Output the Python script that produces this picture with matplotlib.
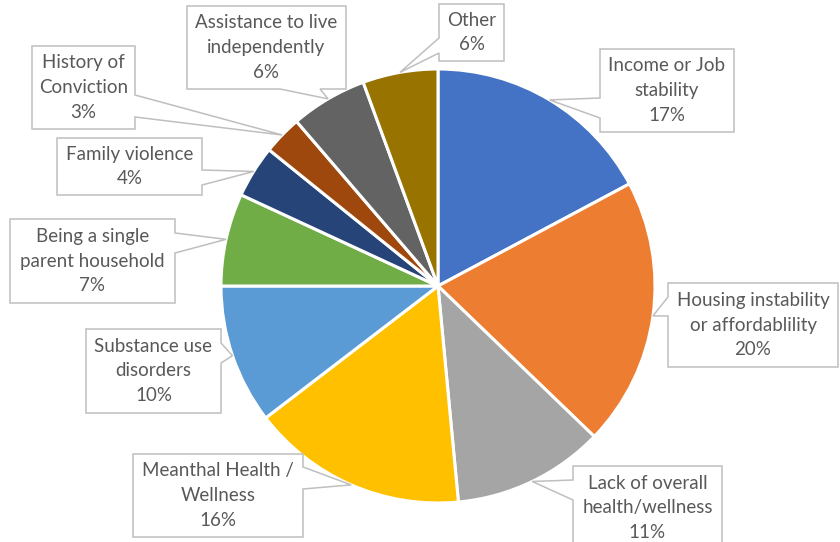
"""Pie chart of reported risk factors with Excel-style callout labels."""
import matplotlib
matplotlib.use("Agg")
import matplotlib.pyplot as plt
import numpy as np
from matplotlib.patches import Polygon

W, H = 840, 542

categories = [
    "Income or Job\nstability",
    "Housing instability\nor affordablility",
    "Lack of overall\nhealth/wellness",
    "Meanthal Health /\nWellness",
    "Substance use\ndisorders",
    "Being a single\nparent household",
    "Family violence",
    "History of\nConviction",
    "Assistance to live\nindependently",
    "Other",
]
shares = [17.2, 20.0, 11.3, 16.1, 10.4, 6.9, 3.9, 2.9, 5.7, 5.6]
colors = ["#4472C4", "#ED7D31", "#A5A5A5", "#FFC000", "#5B9BD5",
          "#70AD47", "#264478", "#9E480E", "#636363", "#997300"]

# callout boxes in pixel space (x0, y0, x1, y1), side holding the pointer, pointer base span
boxes = [
    ((600, 49, 734, 132), "left", (98, 118)),
    ((668, 283, 838, 367), "left", (297, 316)),
    ((573, 466, 722, 562), "left", (480, 500)),
    ((133, 454, 303, 537), "right", (467, 489)),
    ((86, 329, 221, 413), "right", (343, 363)),
    ((10, 219, 175, 303), "right", (233, 253)),
    ((57, 138, 202, 195), "right", (170, 185)),
    ((32, 46, 135, 129), "right", (95, 117)),
    ((187, 6, 346, 89), "bottom", (280, 320)),
    ((439, 4, 504, 61), "left", (38, 53)),
]

CENTER = (438, 286)
RADIUS = 217


def flip(x, y):
    """Pixel coordinates (origin top-left) to axes data coordinates."""
    return x, H - y


def callout_shape(box, side, span, tip):
    x0, y0, x1, y1 = box
    a, b = span
    if side == "left":
        pts = [(x0, y0), (x1, y0), (x1, y1), (x0, y1), (x0, b), tip, (x0, a)]
    elif side == "right":
        pts = [(x0, y0), (x1, y0), (x1, a), tip, (x1, b), (x1, y1), (x0, y1)]
    else:  # bottom
        pts = [(x0, y0), (x1, y0), (x1, y1), (b, y1), tip, (a, y1), (x0, y1)]
    return [flip(px, py) for px, py in pts]


fig = plt.figure(figsize=(W / 100, H / 100), dpi=100)
ax = fig.add_axes([0, 0, 1, 1])

wedges, _ = ax.pie(shares, colors=colors, startangle=90, counterclock=False,
                   center=flip(*CENTER), radius=RADIUS, frame=True,
                   wedgeprops=dict(edgecolor="white", linewidth=2.2))
ax.set_xlim(0, W)
ax.set_ylim(0, H)
ax.set_aspect("equal")
ax.axis("off")

for wedge, label, share, (box, side, span) in zip(wedges, categories, shares, boxes):
    # pointer tip sits on the rim at the middle of the slice
    mid = np.deg2rad((wedge.theta1 + wedge.theta2) / 2)
    cx, cy = wedge.center
    tip_x = cx + RADIUS * np.cos(mid)
    tip_y = cy + RADIUS * np.sin(mid)
    ax.add_patch(Polygon(callout_shape(box, side, span, (tip_x, H - tip_y)),
                         closed=True, facecolor="white", edgecolor="#BFBFBF",
                         linewidth=1.1, zorder=5))
    x0, y0, x1, y1 = box
    tx, ty = flip((x0 + x1) / 2, min((y0 + y1) / 2, y0 + 42))
    ax.text(tx, ty, f"{label}\n{share:.0f}%", ha="center", va="center",
            fontsize=13.5, color="#595959", family="Lato", linespacing=1.55,
            zorder=6)

fig.savefig("out.png", dpi=100)
plt.close(fig)
